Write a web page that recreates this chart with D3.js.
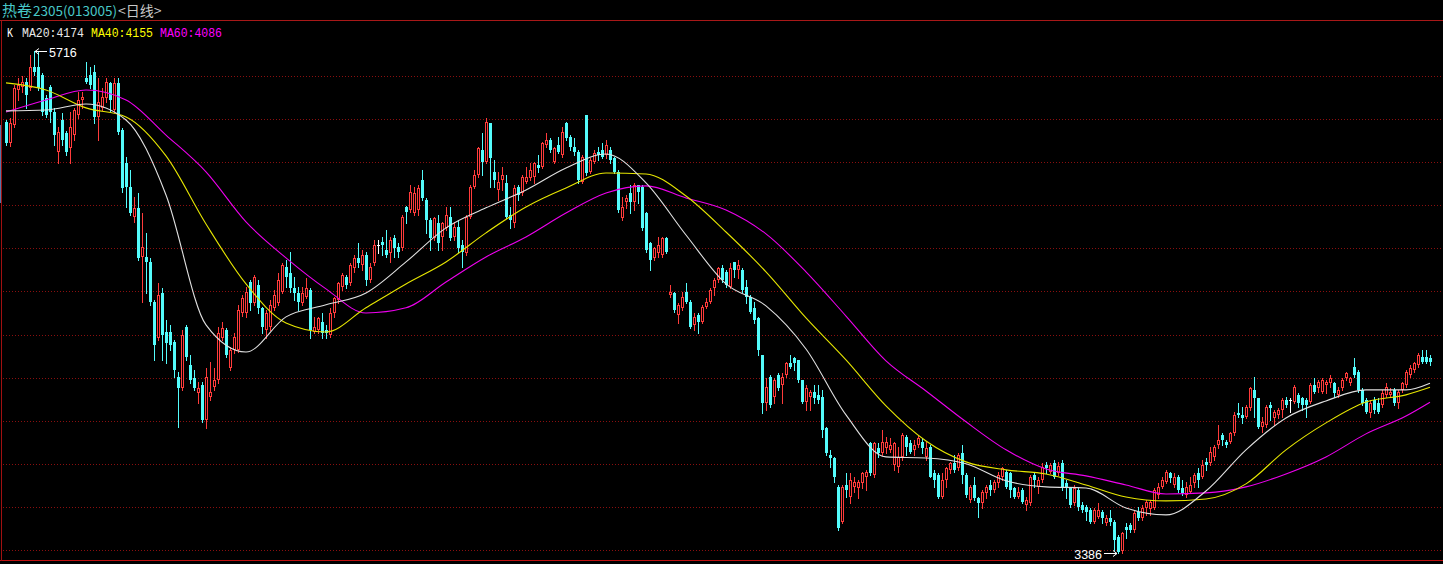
<!DOCTYPE html>
<html><head><meta charset="utf-8">
<script src="https://cdn.jsdelivr.net/npm/d3@7"></script>
<style>html,body{margin:0;padding:0;background:#000;overflow:hidden}</style>
</head><body>
<svg id="c" width="1443" height="564"></svg>
<script>
// ---- data (daily OHLC, 热卷2305) ----
const opens=[
5387,5289,5373,5535,5549,5572,5545,5642,5642,5605, 5498,5549,5433,5248,5396,5336,5266,5326,5419,5489,
5591,5605,5619,5410,5452,5498,5568,5442,5568,5350, 5196,5085,4946,4988,4760,4760,4737,4551,4384,4593,
4412,4412,4366,4203,4152,4435,4259,4198,4129,4166, 4004,4110,4157,4189,4384,4421,4245,4329,4329,4500,
4500,4644,4547,4630,4524,4421,4435,4524,4547,4598, 4714,4686,4616,4593,4547,4575,4607,4412,4421,4459,
4421,4398,4500,4561,4621,4668,4640,4709,4756,4723, 4770,4654,4732,4816,4830,4793,4779,4849,4807,4802,
4992,4978,4964,4978,5118,5025,4932,4848,4918,4853, 4895,4946,4853,4900,4816,4779,4946,5085,5141,5257,
5201,5382,5155,5071,5118,5104,4955,4918,5085,5057, 5108,5127,5132,5187,5178,5280,5303,5201,5280,5234,
5382,5317,5271,5248,5108,5419,5155,5201,5248,5257, 5234,5257,5220,5155,4941,5016,5057,5016,5094,5085,
4964,4825,4756,4779,4770,4848,4584,4593,4491,4524, 4598,4551,4445,4491,4459,4528,4551,4616,4654,4709,
4691,4621,4737,4700,4700,4621,4575,4524,4477,4305, 4083,4203,4110,4213,4166,4213,4268,4292,4282,4189,
4087,4110,4134,4120,4110,3967,3841,3828,3693,3531, 3702,3646,3693,3688,3711,3739,3897,3749,3874,3851,
3874,3865,3795,3786,3832,3925,3897,3865,3888,3902, 3832,3878,3758,3749,3646,3725,3772,3804,3781,3851,
3749,3632,3702,3642,3619,3665,3702,3679,3711,3739, 3763,3758,3688,3646,3679,3609,3619,3749,3693,3725,
3795,3763,3804,3758,3804,3711,3688,3619,3679,3609, 3600,3586,3530,3554,3577,3526,3549,3530,3461,3395,
3507,3517,3493,3577,3549,3595,3591,3595,3656,3693, 3716,3758,3702,3739,3688,3656,3670,3711,3758,3739,
3809,3804,3832,3888,3934,3902,3902,3943,4036,4027, 4018,4060,4143,4106,3971,3981,4073,4013,4027,4050,
4097,4097,4087,4120,4106,4097,4087,4166,4152,4134, 4166,4175,4175,4120,4152,4198,4175,4250,4227,4143,
4097,4036,4097,4083,4073,4120,4120,4143,4083,4143, 4166,4213,4236,4259,4296,4296,4292];
const highs=[
5396,5405,5558,5591,5600,5591,5698,5716,5712,5614, 5512,5558,5452,5364,5429,5345,5433,5452,5526,5526,
5665,5642,5651,5591,5545,5591,5572,5591,5591,5359, 5224,5164,5039,5057,4964,4872,4756,4561,4640,4616,
4468,4445,4375,4226,4421,4445,4305,4236,4180,4180, 4245,4273,4245,4435,4459,4431,4343,4407,4538,4584,
4621,4654,4677,4654,4528,4514,4561,4607,4686,4732, 4746,4783,4668,4621,4621,4663,4616,4482,4482,4500,
4445,4524,4575,4644,4686,4677,4732,4770,4825,4793, 4783,4732,4839,4839,4853,4886,4853,4862,4825,4955,
4995,5094,5085,5094,5164,5034,4941,4946,4955,4923, 4992,4992,4923,4932,4839,4955,5094,5164,5271,5336,
5405,5382,5210,5155,5178,5141,4992,5094,5094,5141, 5178,5196,5201,5234,5294,5336,5312,5271,5317,5364,
5387,5326,5312,5257,5234,5419,5220,5257,5271,5289, 5303,5271,5224,5164,5039,5048,5094,5104,5094,5094,
4969,4830,4807,4853,4853,4853,4630,4598,4547,4598, 4640,4561,4500,4500,4538,4570,4616,4663,4714,4723,
4700,4732,4737,4746,4709,4654,4584,4551,4482,4305, 4198,4213,4198,4222,4222,4273,4305,4296,4282,4189,
4166,4143,4166,4166,4143,3971,3865,3832,3702,3702, 3758,3758,3739,3725,3763,3772,3902,3902,3897,3957,
3925,3920,3902,3878,3943,3934,3911,3911,3934,3920, 3902,3888,3772,3758,3758,3786,3809,3841,3851,3888,
3758,3702,3739,3646,3679,3702,3725,3725,3763,3786, 3772,3763,3693,3693,3688,3646,3749,3758,3739,3804,
3809,3804,3818,3809,3818,3725,3693,3702,3688,3623, 3609,3595,3595,3619,3586,3563,3586,3540,3470,3484,
3526,3526,3586,3600,3609,3632,3632,3688,3711,3739, 3772,3763,3758,3749,3725,3716,3739,3758,3781,3818,
3828,3878,3888,3981,3943,3911,3948,4041,4083,4064, 4073,4157,4203,4106,4018,4073,4087,4050,4060,4106,
4110,4106,4166,4129,4110,4106,4175,4198,4189,4198, 4189,4213,4180,4157,4198,4227,4203,4292,4236,4152,
4106,4097,4110,4106,4143,4175,4152,4152,4143,4180, 4236,4259,4273,4315,4329,4329,4305];
const lows=[
5280,5275,5364,5489,5526,5452,5535,5605,5535,5419, 5410,5387,5280,5196,5280,5234,5196,5303,5405,5452,
5568,5545,5382,5303,5442,5480,5433,5433,5331,5062, 4992,4955,4923,4746,4551,4593,4538,4282,4375,4282,
4268,4329,4203,3971,4143,4282,4175,4143,4083,3995, 3967,4097,4143,4175,4375,4296,4236,4315,4319,4486,
4482,4514,4538,4500,4407,4384,4421,4514,4538,4593, 4621,4598,4561,4514,4538,4570,4384,4407,4407,4384,
4384,4389,4482,4547,4607,4616,4630,4691,4714,4700, 4630,4644,4723,4779,4770,4760,4737,4760,4760,4793,
4918,4969,4955,4955,5025,4872,4793,4839,4793,4793, 4886,4839,4839,4783,4714,4770,4941,5081,5132,5141,
5196,5085,5085,5025,5071,4941,4895,4900,5025,5048, 5104,5118,5104,5155,5173,5271,5248,5196,5243,5224,
5303,5257,5234,5104,5104,5141,5150,5196,5210,5220, 5220,5196,5150,4969,4932,4988,4964,4978,5011,4886,
4783,4700,4746,4760,4760,4779,4575,4505,4454,4514, 4547,4431,4421,4407,4454,4524,4547,4584,4644,4644,
4621,4616,4668,4663,4598,4547,4500,4454,4305,4036, 4050,4064,4083,4143,4083,4203,4245,4236,4180,4083,
4050,4050,4083,4083,3925,3841,3786,3716,3493,3526, 3646,3619,3670,3642,3688,3679,3749,3739,3832,3841,
3851,3855,3772,3763,3818,3841,3851,3841,3878,3851, 3818,3739,3693,3642,3642,3693,3758,3763,3772,3711,
3646,3623,3632,3554,3595,3642,3656,3670,3693,3725, 3688,3646,3642,3642,3619,3586,3609,3693,3665,3716,
3758,3758,3735,3749,3679,3642,3600,3609,3586,3577, 3540,3526,3526,3549,3526,3517,3517,3400,3386,3388,
3456,3484,3484,3540,3540,3563,3563,3591,3642,3688, 3711,3716,3693,3670,3656,3646,3665,3693,3693,3735,
3772,3795,3818,3874,3888,3878,3897,3934,4018,3990, 4013,4050,4018,3967,3948,3971,4004,3981,4013,4018,
4064,4041,4083,4064,4050,4018,4083,4129,4134,4129, 4129,4157,4110,4110,4143,4189,4166,4203,4134,4073,
4036,4018,4036,4036,4064,4110,4110,4073,4060,4134, 4157,4203,4226,4250,4268,4268,4259];
const closes=[
5289,5382,5545,5558,5572,5512,5642,5619,5545,5433, 5419,5433,5326,5340,5303,5248,5364,5442,5489,5503,
5572,5558,5410,5480,5503,5572,5489,5568,5340,5081, 5085,4964,4988,4756,4807,4737,4551,4352,4584,4398,
4361,4352,4236,4152,4398,4296,4189,4152,4152,4004, 4203,4134,4189,4407,4431,4305,4329,4389,4514,4570,
4598,4547,4668,4524,4435,4500,4538,4584,4654,4723, 4668,4616,4593,4551,4593,4616,4421,4435,4477,4407,
4407,4500,4570,4640,4677,4630,4723,4756,4732,4770, 4654,4714,4816,4816,4816,4770,4839,4802,4783,4946,
4969,5062,5057,5081,5034,4932,4848,4941,4825,4918, 4955,4848,4900,4802,4783,4946,5085,5141,5266,5201,
5387,5220,5118,5108,5141,4946,4932,5081,5048,5132, 5132,5164,5196,5173,5289,5303,5257,5266,5248,5340,
5312,5271,5248,5118,5224,5150,5210,5243,5234,5224, 5280,5210,5155,4978,4992,5034,5016,5094,5062,4895,
4793,4746,4802,4816,4848,4783,4598,4514,4538,4575, 4551,4435,4482,4459,4528,4551,4607,4654,4709,4654,
4630,4709,4700,4723,4607,4575,4505,4468,4329,4083, 4157,4073,4189,4152,4203,4268,4250,4268,4189,4087,
4152,4134,4106,4097,3957,3851,3828,3739,3503,3693, 3679,3725,3716,3716,3758,3763,3758,3897,3851,3902,
3902,3888,3897,3832,3934,3878,3855,3888,3920,3874, 3874,3739,3725,3646,3725,3781,3804,3772,3841,3749,
3656,3693,3642,3619,3670,3693,3679,3716,3749,3781, 3693,3679,3646,3670,3623,3632,3739,3725,3725,3786,
3781,3795,3739,3790,3688,3688,3609,3688,3600,3586, 3577,3530,3586,3586,3549,3549,3530,3447,3392,3480,
3493,3493,3572,3549,3595,3623,3623,3679,3693,3725, 3763,3735,3739,3679,3665,3693,3702,3749,3725,3795,
3795,3855,3878,3911,3911,3888,3943,4027,4027,4013, 4064,4152,4106,3971,3995,4064,4060,4041,4050,4097,
4073,4097,4157,4083,4073,4073,4166,4134,4180,4189, 4180,4198,4129,4143,4189,4222,4198,4213,4143,4083,
4041,4083,4050,4041,4129,4157,4134,4083,4134,4175, 4226,4245,4268,4305,4273,4273,4273];

// moving averages read at every 10th bar
const maIdx=[0,10,20,30,40,50,60,70,80,90,100,110,120,130,140,150,160,170,180,190,200,210,220,230,240,250,260,270,280,290,300,310,320,330,340,350,356];
const ma20=[5438,5442,5470,5396,5048,4445,4319,4482,4538,4593,4737,4895,4988,5071,5173,5238,5104,4862,4635,4533,4333,4027,3832,3827,3800,3721,3693,3688,3595,3563,3674,3865,4013,4092,4143,4143,4174];
const ma40=[5568,5535,5452,5410,5229,4913,4635,4454,4412,4524,4635,4737,4872,4992,5080,5150,5145,5043,4876,4691,4477,4282,4069,3906,3809,3772,3753,3702,3646,3628,3637,3707,3865,3990,4087,4120,4155];
const ma60=[5433,5489,5535,5489,5326,5155,4923,4756,4612,4500,4524,4644,4760,4853,4964,5057,5090,5034,4978,4867,4691,4486,4278,4138,3995,3865,3776,3744,3702,3660,3665,3693,3753,3832,3939,4022,4086];

const gridPrices=[5600,5400,5200,5000,4800,4600,4400,4200,4000,3800,3600,3400];
const titleMain="热卷", titleCode="2305(013005)", titlePeriod="<日线>";
const legendItems=[{t:"K",c:"#ffffff"},{t:"MA20:4174",c:"#e8e8e8"},{t:"MA40:4155",c:"#ffff00"},{t:"MA60:4086",c:"#ff00ff"}];

// ---- drawing ----
const W=1443,H=564;
const svg=d3.select("#c");
svg.append("rect").attr("width",W).attr("height",H).attr("fill","#000");
const n=closes.length;
const x=d3.scaleLinear().domain([0,n-1]).range([6,6+4*(n-1)]);
const y=d3.scaleLinear().domain([3400,5600]).range([550,76]);

// frame
svg.append("line").attr("x1",0).attr("x2",W).attr("y1",20.5).attr("y2",20.5).attr("stroke","#a81818").attr("stroke-width",1);
svg.append("line").attr("x1",0).attr("x2",W).attr("y1",560.5).attr("y2",560.5).attr("stroke","#c01010").attr("stroke-width",1);
svg.append("line").attr("x1",1.5).attr("x2",1.5).attr("y1",21).attr("y2",561).attr("stroke","#a01010").attr("stroke-width",1);
svg.append("line").attr("x1",0.5).attr("x2",0.5).attr("y1",125).attr("y2",203).attr("stroke","#5878a8").attr("stroke-width",1);

// grid
svg.append("g").selectAll("line").data(gridPrices).join("line")
  .attr("x1",3).attr("x2",W).attr("y1",d=>Math.round(y(d))+0.5).attr("y2",d=>Math.round(y(d))+0.5)
  .attr("stroke","#8a0f0f").attr("stroke-width",1).attr("stroke-dasharray","1,2");

// candles
const gC=svg.append("g").attr("shape-rendering","crispEdges");
const RED="#ff3b3b", CYAN="#54fcfc";
for(let i=0;i<n;i++){
  const o=opens[i],c=closes[i];
  const hi=Math.max(highs[i],o,c), lo=Math.min(lows[i],o,c);
  const cx=Math.round(x(i));
  const yH=Math.round(y(hi)), yL=Math.round(y(lo));
  const yT=Math.round(y(Math.max(o,c))), yB=Math.round(y(Math.min(o,c)));
  if(c>o){
    if(yB-yT>=2){
      gC.append("line").attr("x1",cx+0.5).attr("x2",cx+0.5).attr("y1",yH).attr("y2",yT).attr("stroke",RED);
      gC.append("line").attr("x1",cx+0.5).attr("x2",cx+0.5).attr("y1",yB).attr("y2",yL+1).attr("stroke",RED);
      gC.append("rect").attr("x",cx-0.5).attr("y",yT+0.5).attr("width",2).attr("height",yB-yT-1)
        .attr("fill","#000").attr("stroke",RED).attr("stroke-width",1);
    } else {
      gC.append("line").attr("x1",cx+0.5).attr("x2",cx+0.5).attr("y1",yH).attr("y2",yL+1).attr("stroke",RED);
      gC.append("rect").attr("x",cx-1).attr("y",yT).attr("width",3).attr("height",Math.max(1,yB-yT)).attr("fill",RED);
    }
  } else if(c<o){
    gC.append("line").attr("x1",cx+0.5).attr("x2",cx+0.5).attr("y1",yH).attr("y2",yL+1).attr("stroke",CYAN);
    gC.append("rect").attr("x",cx-1).attr("y",yT).attr("width",3).attr("height",Math.max(1,yB-yT)).attr("fill",CYAN);
  } else {
    gC.append("line").attr("x1",cx+0.5).attr("x2",cx+0.5).attr("y1",yH).attr("y2",yL+1).attr("stroke","#ffffff");
    gC.append("rect").attr("x",cx-1).attr("y",yT).attr("width",3).attr("height",1).attr("fill","#ffffff");
  }
}

// moving averages
const maLine=arr=>d3.line().x((d,k)=>x(maIdx[k])).y(d=>y(d)).curve(d3.curveMonotoneX)(arr);
[[ma60,"#ee00ee"],[ma40,"#e6e600"],[ma20,"#e0e0e0"]].forEach(([arr,col])=>{
  svg.append("path").attr("d",maLine(arr)).attr("fill","none").attr("stroke",col).attr("stroke-width",1.1);
});

// high / low markers
const iMax=d3.maxIndex(highs), iMin=d3.minIndex(lows);
const hx=x(iMax), hy=Math.round(y(highs[iMax]))+0.5;
svg.append("path").attr("d",`M${hx+1},${hy}H${hx+13}M${hx+1},${hy}l4,-3M${hx+1},${hy}l4,3`)
  .attr("stroke","#fff").attr("fill","none").attr("stroke-width",1);
svg.append("text").attr("x",hx+15).attr("y",hy+5).attr("fill","#fff")
  .attr("font-family","Liberation Sans, Arial, sans-serif").attr("font-size",12.5).text(highs[iMax]);
const lx=x(iMin), ly=Math.round(y(lows[iMin]))+0.5;
svg.append("path").attr("d",`M${lx-1},${ly}H${lx-14}M${lx-1},${ly}l-4,-3M${lx-1},${ly}l-4,3`)
  .attr("stroke","#fff").attr("fill","none").attr("stroke-width",1);
svg.append("text").attr("x",lx-16).attr("y",ly+5).attr("text-anchor","end").attr("fill","#fff")
  .attr("font-family","Liberation Sans, Arial, sans-serif").attr("font-size",12.5).text(lows[iMin]);

// title: pieces laid out one after another by their measured widths
let tx=2;
[{t:titleMain,fs:15,c:"#48c8c8"},{t:titleCode,fs:13.5,c:"#48c8c8"},{t:titlePeriod,fs:14,c:"#c8c8c8"}].forEach(p=>{
  const el=svg.append("text").attr("x",tx).attr("y",16).attr("fill",p.c)
    .attr("font-family","Noto Sans CJK SC, sans-serif").attr("font-size",p.fs).text(p.t);
  tx+=el.node().getComputedTextLength()+1;
});

// legend
const lgX=[7,22,91,160];
legendItems.forEach((d,k)=>{
  svg.append("text").attr("x",lgX[k]).attr("y",37).attr("fill",d.c)
    .attr("font-family","Liberation Mono, DejaVu Sans Mono, monospace").attr("font-size",12)
    .attr("textLength",d.t.length*7-1).attr("lengthAdjust","spacingAndGlyphs").text(d.t);
});
</script>
</body></html>
